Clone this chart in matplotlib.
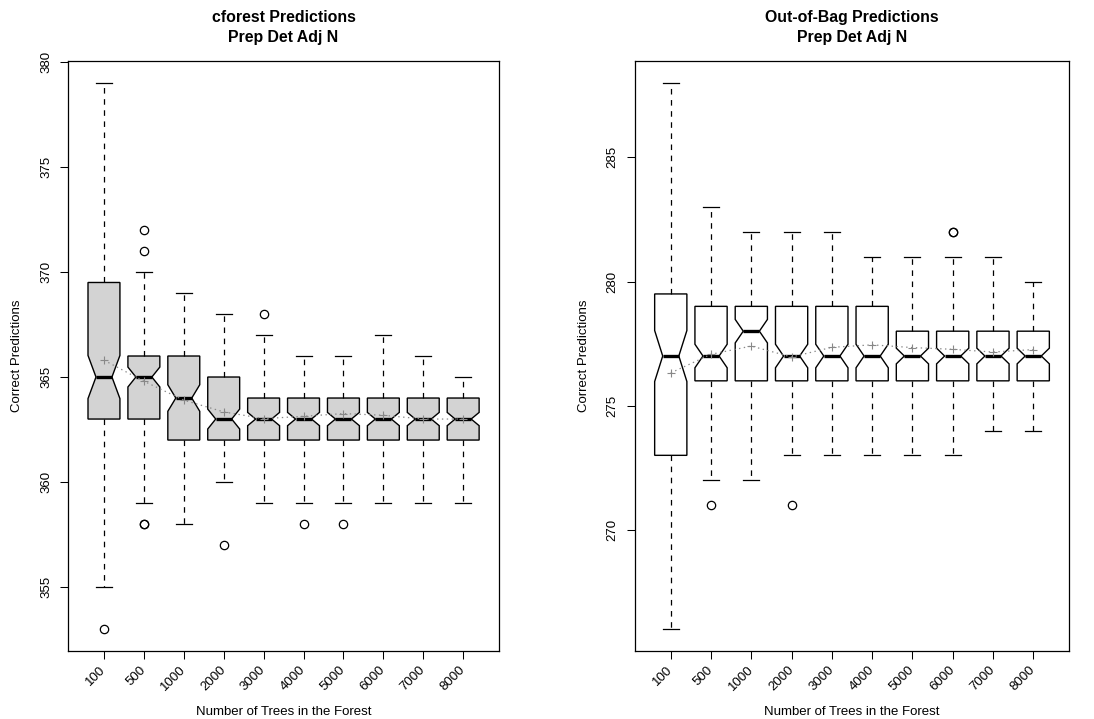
import numpy as np
import matplotlib
matplotlib.use("Agg")
import matplotlib.pyplot as plt

plt.rcParams['font.family'] = ['Liberation Sans', 'DejaVu Sans']
plt.rcParams['lines.scale_dashes'] = False

# number of trees in the forest
trees = ["100", "500", "1000", "2000", "3000", "4000", "5000", "6000", "7000", "8000"]
n_runs = 100

# cforest predictions
cf_whislo = [355, 359, 358, 360, 359, 359, 359, 359, 359, 359]
cf_q1 = [363, 363, 362, 362, 362, 362, 362, 362, 362, 362]
cf_med = [365, 365, 364, 363, 363, 363, 363, 363, 363, 363]
cf_q3 = [369.5, 366, 366, 365, 364, 364, 364, 364, 364, 364]
cf_whishi = [379, 370, 369, 368, 367, 366, 366, 367, 366, 365]
cf_fliers = [[353], [371, 372, 358, 358], [], [357], [368], [358], [358], [], [], []]
cf_mean = [365.8, 364.8, 363.9, 363.34, 363.02, 363.13, 363.26, 363.18, 363.0, 363.0]

# out-of-bag predictions
oob_whislo = [266, 272, 272, 273, 273, 273, 273, 273, 274, 274]
oob_q1 = [273, 276, 276, 276, 276, 276, 276, 276, 276, 276]
oob_med = [277, 277, 278, 277, 277, 277, 277, 277, 277, 277]
oob_q3 = [279.5, 279, 279, 279, 279, 279, 278, 278, 278, 278]
oob_whishi = [288, 283, 282, 282, 282, 281, 281, 281, 281, 280]
oob_fliers = [[], [271], [], [271], [], [], [], [282, 282], [], []]
oob_mean = [276.32, 277.07, 277.4, 276.96, 277.35, 277.45, 277.34, 277.27, 277.16, 277.26]


def make_stats(lo, q1, med, q3, hi, fl):
    stats = []
    for i in range(len(med)):
        half = 1.58 * (q3[i] - q1[i]) / np.sqrt(n_runs)
        stats.append(dict(whislo=lo[i], q1=q1[i], med=med[i], q3=q3[i], whishi=hi[i],
                          fliers=fl[i], cilo=med[i] - half, cihi=med[i] + half))
    return stats


def draw(ax, stats, means, fill, title, yticks):
    pos = np.arange(1, len(stats) + 1)
    ax.bxp(stats, positions=pos, widths=0.8, shownotches=True, patch_artist=True,
           boxprops=dict(facecolor=fill, edgecolor='black', linewidth=1.0),
           whiskerprops=dict(color='black', linewidth=0.9, linestyle=(0, (4, 4))),
           capprops=dict(color='black', linewidth=0.9),
           medianprops=dict(color='black', linewidth=2.4, solid_capstyle='butt'),
           flierprops=dict(marker='o', markerfacecolor='none', markeredgecolor='black',
                           markersize=6, markeredgewidth=0.9))
    ax.plot(pos, means, color='#888888', linestyle=(0, (1, 2.5)), linewidth=0.9,
            marker='+', markersize=6, markeredgewidth=0.8, zorder=5)
    ax.set_xlim(0.1, 10.9)
    ax.set_xticks(pos)
    ax.set_xticklabels(trees, rotation=45, ha='right', va='center', rotation_mode='anchor')
    ax.set_yticks(yticks)
    ax.set_yticklabels([str(t) for t in yticks], rotation=90, va='center')
    ax.tick_params(direction='out', length=5.5, width=0.75, labelsize=9.5, pad=6)
    ax.tick_params(axis='x', pad=7)
    for s in ax.spines.values():
        s.set_linewidth(0.9)
    ax.set_title(title, fontsize=11.4, fontweight='bold', linespacing=1.35, pad=14)
    ax.set_ylabel("Correct Predictions", fontsize=9.5, labelpad=12)
    ax.set_xlabel("Number of Trees in the Forest", fontsize=9.5, labelpad=9)


fig = plt.figure(figsize=(10.94, 7.19), dpi=100)
ax1 = fig.add_axes([0.0622, 0.0946, 0.394, 0.8205])
ax2 = fig.add_axes([0.58, 0.0946, 0.3976, 0.8205])

draw(ax1, make_stats(cf_whislo, cf_q1, cf_med, cf_q3, cf_whishi, cf_fliers), cf_mean,
     '#D3D3D3', "cforest Predictions\nPrep Det Adj N", [355, 360, 365, 370, 375, 380])
ax1.set_ylim(351.96, 380.04)

draw(ax2, make_stats(oob_whislo, oob_q1, oob_med, oob_q3, oob_whishi, oob_fliers), oob_mean,
     'white', "Out-of-Bag Predictions\nPrep Det Adj N", [270, 275, 280, 285])
ax2.set_ylim(265.12, 288.88)

fig.savefig("out.png", dpi=100)
